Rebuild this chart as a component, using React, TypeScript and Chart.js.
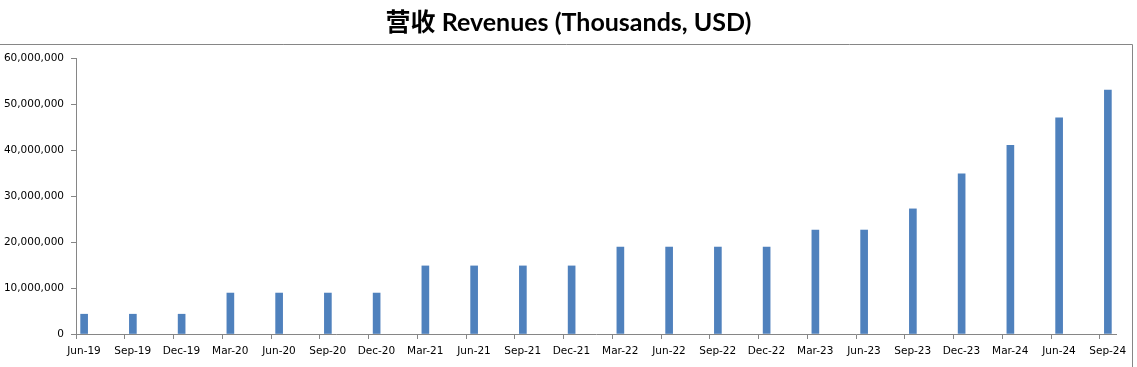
import React, { useEffect, useRef } from "react";
import { Chart, registerables } from "chart.js";

Chart.register(...registerables);

const TITLE = "营收 Revenues (Thousands, USD)";
const categories = [
  "Jun-19", "Sep-19", "Dec-19", "Mar-20", "Jun-20", "Sep-20", "Dec-20",
  "Mar-21", "Jun-21", "Sep-21", "Dec-21", "Mar-22", "Jun-22", "Sep-22",
  "Dec-22", "Mar-23", "Jun-23", "Sep-23", "Dec-23", "Mar-24", "Jun-24", "Sep-24",
];
const revenues = [
  4300000, 4300000, 4300000, 8900000, 8900000, 8900000, 8900000,
  14800000, 14800000, 14800000, 14800000, 18900000, 18900000, 18900000,
  18900000, 22600000, 22600000, 27200000, 34800000, 41000000, 47000000, 53000000,
];
const yTicks = [0, 10000000, 20000000, 30000000, 40000000, 50000000, 60000000];
// months per category step and total month slots on the date axis
const MONTHS_PER_STEP = 3;
const TOTAL_MONTHS = 64;

const framePlugin = {
  id: "frame",
  afterDraw(chart: any) {
    const ctx = chart.ctx;
    ctx.save();
    ctx.strokeStyle = "#868686";
    ctx.lineWidth = 1;
    ctx.beginPath();
    ctx.moveTo(0, 44.5);
    ctx.lineTo(1132.5, 44.5);
    ctx.lineTo(1132.5, chart.height);
    ctx.stroke();
    ctx.fillStyle = "#000";
    ctx.font = "bold 25px Lato, 'Noto Sans CJK SC'";
    ctx.textAlign = "center";
    ctx.textBaseline = "middle";
    ctx.fillText(TITLE, chart.width / 2, 23);
    ctx.restore();
  },
};

export default function App() {
  const ref = useRef<HTMLCanvasElement | null>(null);
  useEffect(() => {
    if (!ref.current) return;
    const chart = new Chart(ref.current, {
      type: "bar",
      data: {
        datasets: [
          {
            data: revenues.map((v, i) => ({ x: i * MONTHS_PER_STEP + 0.5, y: v })),
            backgroundColor: "#4F81BD",
            borderWidth: 0,
            barThickness: 7,
          },
        ],
      },
      options: {
        animation: false,
        responsive: false,
        maintainAspectRatio: false,
        layout: { padding: { left: 0, right: 21, top: 58, bottom: 0 } },
        plugins: {
          legend: { display: false },
          tooltip: { enabled: false },
          title: { display: false },
        },
        scales: {
          x: {
            type: "linear",
            offset: false,
            min: 0,
            max: TOTAL_MONTHS,
            afterBuildTicks: (scale: any) => {
              scale.ticks = categories.map((_, i) => ({ value: i * MONTHS_PER_STEP }));
            },
            afterFit: (scale: any) => {
              scale.height = 33;
            },
            ticks: {
              autoSkip: false,
              maxRotation: 0,
              labelOffset: 8,
              padding: 6,
              color: "#000",
              font: { family: "'DejaVu Sans'", size: 10.5 },
              callback: (v: any) => categories[Math.round(Number(v) / MONTHS_PER_STEP)] ?? "",
            },
            grid: { display: true, offset: false, drawOnChartArea: false, tickLength: 5, color: "#868686" },
            border: { display: true, color: "#868686" },
          },
          y: {
            min: 0,
            max: 60000000,
            afterBuildTicks: (scale: any) => {
              scale.ticks = yTicks.map((v) => ({ value: v }));
            },
            afterFit: (scale: any) => {
              scale.width = 76;
            },
            ticks: {
              padding: 7,
              color: "#000",
              font: { family: "'DejaVu Sans'", size: 10.5 },
              callback: (v: any) => Number(v).toLocaleString("en-US"),
            },
            grid: { display: true, drawOnChartArea: false, tickLength: 5, color: "#868686" },
            border: { display: true, color: "#868686" },
          },
        },
      },
      plugins: [framePlugin],
    } as any);
    return () => chart.destroy();
  }, []);
  return (
    <div style={{ position: "fixed", left: 0, top: 0, width: 1137, height: 367, background: "#fff" }}>
      <canvas ref={ref} width={1137} height={367} style={{ width: 1137, height: 367 }} />
    </div>
  );
}
